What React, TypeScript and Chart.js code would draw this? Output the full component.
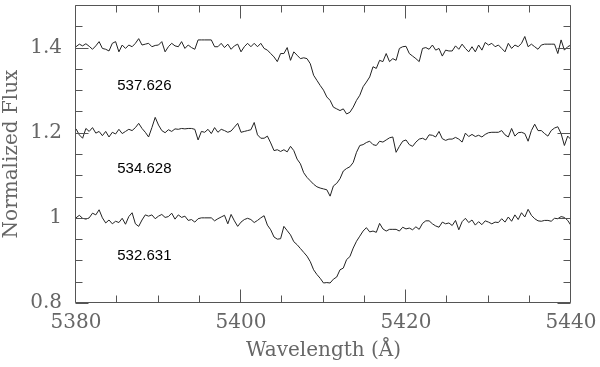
import React, { useEffect, useRef } from "react";
import { Chart, registerables } from "chart.js";

Chart.register(...registerables);

// Wavelength grid (Å)
const wavelength = [
  5380, 5380.4, 5380.8, 5381.2, 5381.6, 5382, 5382.4, 5382.8, 5383.2, 5383.6,
  5384, 5384.4, 5384.8, 5385.2, 5385.6, 5386, 5386.4, 5386.8, 5387.2, 5387.6,
  5388, 5388.4, 5388.8, 5389.2, 5389.6, 5390, 5390.4, 5390.8, 5391.2, 5391.6,
  5392, 5392.4, 5392.8, 5393.2, 5393.6, 5394, 5394.4, 5394.8, 5395.2, 5395.6,
  5396, 5396.4, 5396.8, 5397.2, 5397.6, 5398, 5398.4, 5398.8, 5399.2, 5399.6,
  5400, 5400.4, 5400.8, 5401.2, 5401.6, 5402, 5402.4, 5402.8, 5403.2, 5403.6,
  5404, 5404.4, 5404.8, 5405.2, 5405.6, 5406, 5406.4, 5406.8, 5407.2, 5407.6,
  5408, 5408.4, 5408.8, 5409.2, 5409.6, 5410, 5410.4, 5410.8, 5411.2, 5411.6,
  5412, 5412.4, 5412.8, 5413.2, 5413.6, 5414, 5414.4, 5414.8, 5415.2, 5415.6,
  5416, 5416.4, 5416.8, 5417.2, 5417.6, 5418, 5418.4, 5418.8, 5419.2, 5419.6,
  5420, 5420.4, 5420.8, 5421.2, 5421.6, 5422, 5422.4, 5422.8, 5423.2, 5423.6,
  5424, 5424.4, 5424.8, 5425.2, 5425.6, 5426, 5426.4, 5426.8, 5427.2, 5427.6,
  5428, 5428.4, 5428.8, 5429.2, 5429.6, 5430, 5430.4, 5430.8, 5431.2, 5431.6,
  5432, 5432.4, 5432.8, 5433.2, 5433.6, 5434, 5434.4, 5434.8, 5435.2, 5435.6,
  5436, 5436.4, 5436.8, 5437.2, 5437.6, 5438, 5438.4, 5438.8, 5439.2, 5439.6,
  5440,
];

// Spectrum at phase 537.626 (offset +0.4)
const flux537626 = [
  1.402, 1.408, 1.404, 1.409, 1.403, 1.396, 1.404, 1.414, 1.398, 1.396,
  1.392, 1.410, 1.414, 1.390, 1.406, 1.398, 1.406, 1.402, 1.410, 1.421,
  1.406, 1.408, 1.410, 1.402, 1.405, 1.406, 1.414, 1.390, 1.402, 1.410,
  1.404, 1.402, 1.414, 1.398, 1.406, 1.400, 1.396, 1.418, 1.418, 1.418,
  1.418, 1.418, 1.402, 1.402, 1.410, 1.400, 1.408, 1.396, 1.404, 1.408,
  1.390, 1.402, 1.410, 1.402, 1.410, 1.402, 1.410, 1.398, 1.394, 1.386,
  1.378, 1.367, 1.386, 1.386, 1.400, 1.370, 1.390, 1.382, 1.374, 1.376,
  1.374, 1.362, 1.335, 1.323, 1.311, 1.300, 1.284, 1.276, 1.260, 1.256,
  1.252, 1.256, 1.244, 1.248, 1.260, 1.276, 1.288, 1.308, 1.319, 1.331,
  1.355, 1.351, 1.370, 1.367, 1.386, 1.367, 1.374, 1.370, 1.398, 1.402,
  1.403, 1.386, 1.380, 1.374, 1.367, 1.398, 1.400, 1.396, 1.406, 1.394,
  1.398, 1.380, 1.394, 1.392, 1.392, 1.404, 1.396, 1.408, 1.398, 1.390,
  1.402, 1.390, 1.406, 1.394, 1.412, 1.406, 1.410, 1.402, 1.406, 1.398,
  1.390, 1.410, 1.398, 1.406, 1.402, 1.410, 1.426, 1.402, 1.408, 1.402,
  1.396, 1.406, 1.408, 1.408, 1.408, 1.408, 1.386, 1.418, 1.394, 1.402,
  1.406,
];

// Spectrum at phase 534.628 (offset +0.2)
const flux534628 = [
  1.209, 1.195, 1.187, 1.210, 1.203, 1.212, 1.199, 1.203, 1.193, 1.203,
  1.190, 1.201, 1.197, 1.208, 1.198, 1.203, 1.208, 1.205, 1.212, 1.222,
  1.210, 1.201, 1.190, 1.212, 1.236, 1.218, 1.205, 1.200, 1.207, 1.203,
  1.209, 1.208, 1.210, 1.209, 1.210, 1.210, 1.208, 1.183, 1.203, 1.201,
  1.208, 1.198, 1.212, 1.201, 1.208, 1.205, 1.201, 1.204, 1.213, 1.222,
  1.201, 1.203, 1.205, 1.207, 1.224, 1.195, 1.187, 1.187, 1.192, 1.176,
  1.158, 1.160, 1.156, 1.160, 1.155, 1.168, 1.158, 1.138, 1.127, 1.106,
  1.095, 1.087, 1.079, 1.073, 1.070, 1.068, 1.066, 1.051, 1.075, 1.081,
  1.092, 1.110, 1.116, 1.120, 1.130, 1.154, 1.170, 1.172, 1.177, 1.180,
  1.172, 1.170, 1.180, 1.178, 1.183, 1.188, 1.190, 1.154, 1.168, 1.180,
  1.183, 1.172, 1.168, 1.178, 1.185, 1.187, 1.183, 1.195, 1.194, 1.190,
  1.203, 1.186, 1.182, 1.185, 1.185, 1.189, 1.185, 1.178, 1.199, 1.191,
  1.196, 1.191, 1.194, 1.190, 1.196, 1.200, 1.201, 1.201, 1.201, 1.205,
  1.195, 1.190, 1.210, 1.192, 1.200, 1.201, 1.198, 1.180, 1.205, 1.220,
  1.205, 1.205, 1.198, 1.192, 1.205, 1.211, 1.214, 1.198, 1.170, 1.192,
  1.184,
];

// Spectrum at phase 532.631 (no offset)
const flux532631 = [
  1.000, 1.006, 0.999, 0.997, 1.000, 1.011, 1.007, 1.019, 1.000, 0.988,
  0.995, 0.986, 0.992, 0.989, 0.999, 0.985, 1.003, 1.012, 0.986, 0.980,
  0.995, 1.007, 1.004, 1.007, 0.998, 1.004, 1.008, 1.001, 1.003, 1.011,
  0.997, 1.007, 1.001, 1.004, 0.994, 0.996, 0.990, 0.998, 1.000, 1.000,
  1.000, 1.000, 0.993, 0.998, 1.002, 1.006, 0.986, 1.008, 0.993, 0.980,
  0.990, 0.996, 0.999, 0.996, 0.989, 0.994, 1.000, 1.005, 0.983, 0.972,
  0.955, 0.950, 0.951, 0.980, 0.970, 0.960, 0.944, 0.937, 0.928, 0.919,
  0.910, 0.897, 0.878, 0.867, 0.858, 0.847, 0.848, 0.847, 0.856, 0.861,
  0.878, 0.882, 0.902, 0.909, 0.929, 0.945, 0.957, 0.969, 0.977, 0.967,
  0.969, 0.966, 0.987, 0.974, 0.969, 0.973, 0.973, 0.973, 0.969, 0.978,
  0.974, 0.976, 0.972, 0.979, 0.973, 0.987, 0.993, 0.993, 0.986, 0.981,
  0.978, 0.990, 0.986, 0.988, 0.982, 0.994, 0.972, 0.991, 0.999, 0.989,
  0.995, 0.983, 0.991, 0.984, 0.993, 0.990, 0.986, 0.990, 0.989, 0.998,
  0.990, 1.002, 0.992, 1.007, 0.996, 1.012, 1.002, 1.020, 1.006, 0.998,
  0.993, 0.992, 0.994, 0.994, 0.992, 0.999, 0.998, 1.003, 1.001, 0.994,
  0.982,
];

const seriesNames = ["537.626", "534.628", "532.631"];
const seriesFlux = [flux537626, flux534628, flux532631];

const xTickValues = [5380, 5400, 5420, 5440];
const yTickValues = [0.8, 1, 1.2, 1.4];
const xMinorTickValues = [5385, 5390, 5395, 5405, 5410, 5415, 5425, 5430, 5435];
const yMinorTickValues = [0.85, 0.9, 0.95, 1.05, 1.1, 1.15, 1.25, 1.3, 1.35, 1.45];

const AXIS_FONT = '"DejaVu Serif", serif';
const AXIS_COLOR = "#666";
const FRAME_COLOR = "#555";

const framePlugin = {
  id: "frameTicks",
  afterDatasetsDraw(chart: any) {
    const { ctx, chartArea: a, scales } = chart;
    const xs = scales.x;
    const ys = scales.y;
    const left = Math.round(a.left) - 0.5;
    const right = Math.round(a.right) - 0.5;
    const top = Math.round(a.top) + 0.5;
    const bottom = Math.round(a.bottom) - 0.5;
    ctx.save();
    ctx.strokeStyle = FRAME_COLOR;
    ctx.lineWidth = 1;
    ctx.beginPath();
    ctx.rect(left, top, right - left, bottom - top);
    const xTick = (v: number, len: number) => {
      const px = Math.round(xs.getPixelForValue(v)) - 0.5;
      ctx.moveTo(px, bottom);
      ctx.lineTo(px, bottom - len);
      ctx.moveTo(px, top);
      ctx.lineTo(px, top + len);
    };
    const yTick = (v: number, len: number) => {
      const py = Math.round(ys.getPixelForValue(v)) + 0.5;
      ctx.moveTo(left, py);
      ctx.lineTo(left + len, py);
      ctx.moveTo(right, py);
      ctx.lineTo(right - len, py);
    };
    xTickValues.forEach((v) => xTick(v, 13));
    xMinorTickValues.forEach((v) => xTick(v, 7));
    yTickValues.forEach((v) => yTick(v, 13));
    yMinorTickValues.forEach((v) => yTick(v, 7));
    ctx.stroke();

    // phase labels
    const labelLevels = [1.31, 1.115, 0.91];
    ctx.fillStyle = "#000";
    ctx.font = '15px "Liberation Sans", Arial, sans-serif';
    ctx.textAlign = "left";
    ctx.textBaseline = "middle";
    seriesNames.forEach((name, i) => {
      ctx.fillText(name, xs.getPixelForValue(5385), ys.getPixelForValue(labelLevels[i]));
    });
    ctx.restore();
  },
};

export default function App() {
  const ref = useRef<HTMLCanvasElement | null>(null);

  useEffect(() => {
    if (!ref.current) return;
    const chart = new Chart(ref.current, {
      type: "line",
      data: {
        datasets: seriesFlux.map((flux, k) => ({
          label: seriesNames[k],
          data: wavelength.map((x, i) => ({ x, y: flux[i] })),
          borderColor: "#222",
          borderWidth: 1,
          pointRadius: 0,
          fill: false,
          tension: 0,
        })),
      },
      options: {
        responsive: false,
        animation: false,
        layout: { padding: { top: 5, right: 29, left: 0, bottom: 0 } },
        plugins: {
          legend: { display: false },
          tooltip: { enabled: false },
        },
        scales: {
          x: {
            type: "linear",
            min: 5380,
            max: 5440,
            grid: { display: false, drawTicks: false },
            border: { display: false },
            afterBuildTicks: (s: any) => {
              s.ticks = xTickValues.map((v) => ({ value: v }));
            },
            afterFit: (s: any) => {
              s.height = 64;
              s.paddingLeft = 0;
              s.paddingRight = 0;
            },
            ticks: {
              autoSkip: false,
              maxRotation: 0,
              padding: 8,
              color: AXIS_COLOR,
              font: { family: AXIS_FONT, size: 20 },
              callback: (v: any) => String(v),
            },
            title: {
              display: true,
              text: "Wavelength (Å)",
              color: AXIS_COLOR,
              font: { family: AXIS_FONT, size: 20 },
              padding: { top: 0, bottom: 4 },
            },
          },
          y: {
            type: "linear",
            min: 0.8,
            max: 1.5,
            grid: { display: false, drawTicks: false },
            border: { display: false },
            afterBuildTicks: (s: any) => {
              s.ticks = yTickValues.map((v) => ({ value: v }));
            },
            afterFit: (s: any) => {
              s.width = 76;
              s.paddingTop = 0;
              s.paddingBottom = 0;
            },
            ticks: {
              autoSkip: false,
              padding: 14,
              color: AXIS_COLOR,
              font: { family: AXIS_FONT, size: 20 },
              callback: (v: any) => String(v),
            },
            title: {
              display: true,
              text: "Normalized Flux",
              color: AXIS_COLOR,
              font: { family: AXIS_FONT, size: 20 },
              padding: { top: 0, bottom: 0 },
            },
          },
        },
      },
      plugins: [framePlugin],
    });
    return () => chart.destroy();
  }, []);

  return (
    <div style={{ position: "absolute", left: 0, top: 0, width: 600, height: 367, background: "#fff" }}>
      <canvas ref={ref} width={600} height={367} style={{ display: "block", width: 600, height: 367 }} />
    </div>
  );
}
